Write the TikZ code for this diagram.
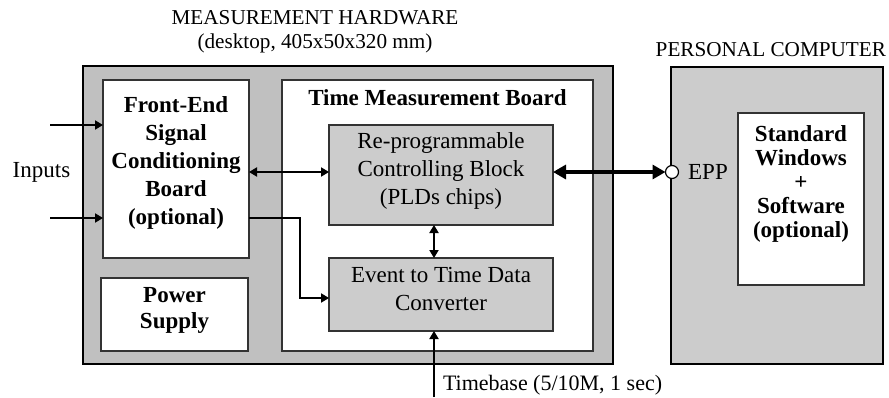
\documentclass[tikz,border=0pt]{standalone}
\usepackage{fontspec}
\setmainfont{Liberation Serif}
\usetikzlibrary{arrows.meta}
\definecolor{hwgray}{HTML}{C0C0C0}
\definecolor{blkgray}{HTML}{CCCCCC}

\begin{document}
\begin{tikzpicture}[x=0.5pt, y=-0.5pt, every node/.style={font=\fontsize{11.5}{14}\selectfont, inner sep=0pt, outer sep=0pt, align=center}, >={Triangle[length=4pt,width=4.6pt]}, case/.style={draw, line width=1.2pt}, card/.style={draw=black!80, line width=0.6pt, fill=white}, blk/.style={draw=black!80, line width=0.6pt, fill=blkgray}, bold/.style={font=\fontsize{11.5}{14}\selectfont\bfseries}]
	\useasboundingbox (0,0) rectangle (889,397);
	% measurement hardware
	\node[case, fill=hwgray, minimum width=265pt, minimum height=149pt] (mh) at (348,215) {};
	\node[font=\fontsize{10.6}{12}\selectfont] (mhtxt) at (315,32) {MEASUREMENT HARDWARE\\(desktop, 405x50x320 mm)};
	\node[card, minimum width=73pt, minimum height=89pt] (fe) at (176,169) {};
	\node[bold] (fetxt) at (176,163) {Front-End\\Signal\\Conditioning\\Board\\(optional)};
	\node[card, minimum width=73.5pt, minimum height=36.5pt] (ps) at (174.5,314.5) {};
	\node[bold, font=\fontsize{11.5}{13}\selectfont\bfseries] (pstxt) at (174.5,310) {Power\\Supply};
	\node[card, minimum width=155.5pt, minimum height=135.5pt] (tmb) at (437.5,215.5) {};
	\node[bold] (tmbtxt) at (437.5,98) {Time Measurement Board};
	\node[blk, minimum width=112pt, minimum height=50pt] (rpc) at (441,175) {};
	\node (rpctxt) at (441,171) {Re-programmable\\Controlling Block\\(PLDs chips)};
	\node[blk, minimum width=112pt, minimum height=36.5pt] (etc) at (441,294.5) {};
	\node (etctxt) at (441,289) {Event to Time Data\\Converter};
	% personal computer
	\node[case, fill=blkgray, minimum width=106pt, minimum height=148.5pt] (pc) at (777,215.5) {};
	\node[anchor=east, font=\fontsize{10.6}{12}\selectfont] (pctxt) at (886,50) {PERSONAL COMPUTER};
	\node[card, minimum width=63pt, minimum height=86pt] (sw) at (801,199) {};
	\node[bold, font=\fontsize{11.5}{12}\selectfont\bfseries] (swtxt) at (801,184) {Standard\\Windows\\+\\Software\\(optional)};
	\node[circle, draw, fill=white, line width=0.6pt, minimum size=6.5pt] (epp) at (672,172) {};
	\node (epptxt) at (708,172) {EPP};
	% inputs and timebase
	\node (inputs) at (41.5,172) {Inputs};
	\coordinate (in1) at (50,125);
	\coordinate (in2) at (50,218);
	\coordinate (tb) at (434,397);
	\node[anchor=west, font=\fontsize{11}{14}\selectfont] (tbtxt) at (443,385) {Timebase (5/10M, 1 sec)};
	
	\draw[->, line width=0.6pt] (in1) -- (in1 -| fe.west);
	\draw[->, line width=0.6pt] (in2) -- (in2 -| fe.west);
	\draw[<->, line width=0.6pt] (fe.east |- epp) -- (rpc.west |- epp);
	\draw[->, line width=0.6pt] (in2 -| fe.east) -- (300,218) -- (300,298) -- (rpc.west |- 0,298);
	\draw[<->, line width=0.6pt] (rpc.south -| tb) -- (etc.north -| tb);
	\draw[->, line width=0.6pt] (tb) -- (etc.south -| tb);
	\draw[<->, line width=1.6pt, >={Triangle[length=6.5pt,width=7pt]}] (rpc.east |- epp) -- (epp.west);
	
\end{tikzpicture}
\end{document}
